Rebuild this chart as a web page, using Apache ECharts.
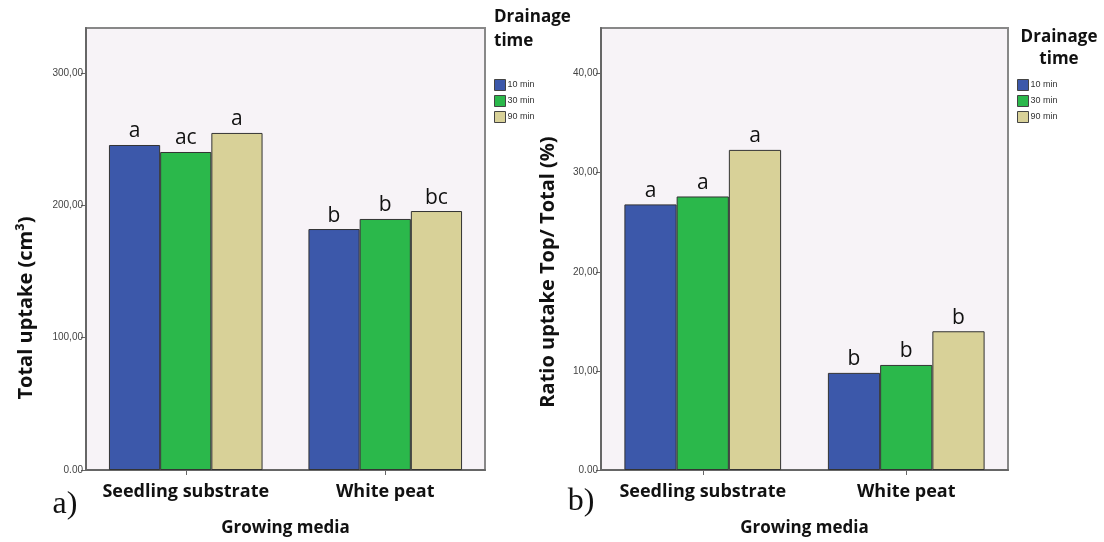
<!DOCTYPE html>
<html>
<head>
<meta charset="utf-8">
<script src="https://cdn.jsdelivr.net/npm/echarts@6/dist/echarts.min.js"></script>
<style>html,body{margin:0;padding:0;background:#fff}#c{width:1104px;height:542px}</style>
</head>
<body>
<div id="c"></div>
<script>
const categories = ['Seedling substrate', 'White peat'];
const seriesNames = ['10 min', '30 min', '90 min'];
const totalUptake = [
  [245.6, 182.1],
  [240.3, 189.7],
  [254.7, 195.7]
];
const ratioUptake = [
  [26.8, 9.8],
  [27.6, 10.6],
  [32.3, 14.0]
];
const lettersTotal = [['a', 'b'], ['ac', 'b'], ['a', 'bc']];
const lettersRatio = [['a', 'b'], ['a', 'b'], ['a', 'b']];
const ticksTotal = [0, 100, 200, 300];
const ticksRatio = [0, 10, 20, 30, 40];
const colors = ['#3c58aa', '#2bb84b', '#d8d198'];

const chart = echarts.init(document.getElementById('c'));
const fmt = v => v === 0 ? '0.00' : v.toFixed(2).replace('.', ',');
const boldFont = 'Open Sans';

function yAxis(idx, max, ticks) {
  return {
    type: 'value', gridIndex: idx, min: 0, max: max,
    splitLine: {show: false},
    axisLine: {show: true, lineStyle: {color: '#666', width: 2}},
    axisTick: {show: true, length: 5, customValues: ticks, lineStyle: {color: '#666'}},
    axisLabel: {customValues: ticks, formatter: fmt, fontSize: 10, color: '#444', margin: 3, fontFamily: 'Liberation Sans'}
  };
}
function xAxis(idx) {
  return {
    type: 'category', gridIndex: idx, data: categories,
    axisLine: {show: true, lineStyle: {color: '#666', width: 2}},
    axisTick: {show: true, alignWithLabel: true, length: 5, lineStyle: {color: '#666'}},
    axisLabel: {interval: 0, fontSize: 18, fontWeight: 'bold', color: '#111', fontFamily: boldFont, margin: 13},
    name: 'Growing media', nameLocation: 'middle', nameGap: 50,
    nameTextStyle: {fontSize: 17, fontWeight: 'bold', color: '#111', fontFamily: boldFont}
  };
}
const series = [];
seriesNames.forEach((n, i) => {
  series.push({
    name: n, type: 'bar', xAxisIndex: 0, yAxisIndex: 0, data: totalUptake[i],
    barGap: '0%', barCategoryGap: '23%',
    itemStyle: {color: colors[i], borderColor: '#333', borderWidth: 1},
    label: {show: true, position: 'top', distance: 3, fontSize: 21, color: '#111', fontFamily: 'Open Sans',
      formatter: p => lettersTotal[i][p.dataIndex]}
  });
  series.push({
    name: n, type: 'bar', xAxisIndex: 1, yAxisIndex: 1, data: ratioUptake[i],
    barGap: '0%', barCategoryGap: '23%',
    itemStyle: {color: colors[i], borderColor: '#333', borderWidth: 1},
    label: {show: true, position: 'top', distance: 3, fontSize: 21, color: '#111', fontFamily: 'Open Sans',
      formatter: p => lettersRatio[i][p.dataIndex]}
  });
});
const legendCommon = {
  orient: 'vertical', itemWidth: 11, itemHeight: 11, itemGap: 4, icon: 'rect',
  textStyle: {fontSize: 9, color: '#333', fontFamily: 'Liberation Sans', padding: [0, 0, 0, -3]},
  data: seriesNames, selectedMode: false,
  itemStyle: {borderColor: '#444', borderWidth: 1}
};
chart.setOption({
  animation: false,
  grid: [
    {left: 86, top: 28, width: 399, height: 442, show: true, backgroundColor: '#f7f3f7', borderColor: '#888', borderWidth: 2},
    {left: 601, top: 28, width: 407, height: 442, show: true, backgroundColor: '#f7f3f7', borderColor: '#888', borderWidth: 2}
  ],
  xAxis: [xAxis(0), xAxis(1)],
  yAxis: [yAxis(0, 334, ticksTotal), yAxis(1, 44.6, ticksRatio)],
  legend: [
    Object.assign({left: 489, top: 74}, legendCommon),
    Object.assign({left: 1012, top: 74}, legendCommon)
  ],
  title: [
    {text: 'Drainage\ntime', left: 494, top: 5, textAlign: 'left', padding: 0,
      textStyle: {fontSize: 17, fontWeight: 'bold', color: '#111', fontFamily: boldFont, lineHeight: 24}},
    {text: 'Drainage\ntime', left: 1059, top: 26, textAlign: 'center', padding: 0,
      textStyle: {fontSize: 17, fontWeight: 'bold', color: '#111', fontFamily: boldFont, lineHeight: 22}}
  ],
  graphic: [
    {type: 'text', x: 26, y: 308, rotation: Math.PI / 2,
      style: {text: 'Total uptake (cm³)', fontSize: 20, fontWeight: 'bold', fill: '#111', fontFamily: boldFont, align: 'center', verticalAlign: 'middle'}},
    {type: 'text', x: 548, y: 272, rotation: Math.PI / 2,
      style: {text: 'Ratio uptake Top/ Total (%)', fontSize: 20, fontWeight: 'bold', fill: '#111', fontFamily: boldFont, align: 'center', verticalAlign: 'middle'}},
    {type: 'text', x: 65, y: 505,
      style: {text: 'a)', fontSize: 32, fill: '#111', fontFamily: 'Liberation Serif', align: 'center', verticalAlign: 'middle'}},
    {type: 'text', x: 581, y: 502,
      style: {text: 'b)', fontSize: 32, fill: '#111', fontFamily: 'Liberation Serif', align: 'center', verticalAlign: 'middle'}}
  ],
  series: series
});
</script>
</body>
</html>
